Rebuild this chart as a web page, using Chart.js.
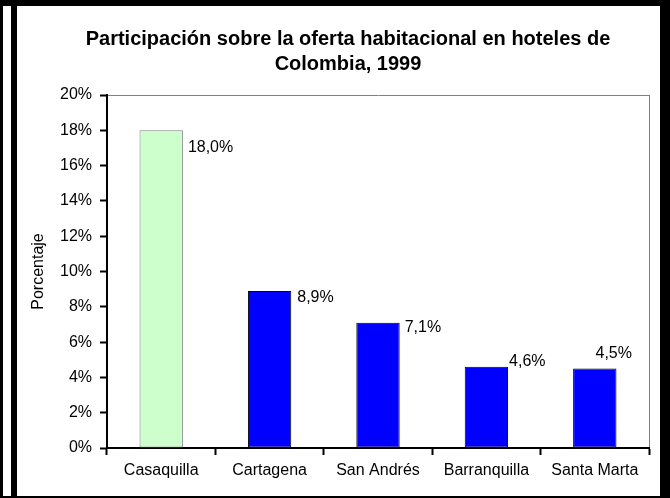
<!DOCTYPE html>
<html>
<head>
<meta charset="utf-8">
<script src="https://cdn.jsdelivr.net/npm/chart.js@4.4.1/dist/chart.umd.min.js"></script>
<style>
  html, body { margin: 0; padding: 0; }
  body { width: 670px; height: 498px; background: #000; position: relative; overflow: hidden; }
  #strip { position: absolute; left: 3px; top: 6px; width: 8px; height: 490px; background: #fff; }
  #panel { position: absolute; left: 17px; top: 6px; width: 643px; height: 490px; background: #fff; }
  canvas { display: block; }
</style>
</head>
<body>
<div id="strip"></div>
<div id="panel"><canvas id="chart" width="643" height="490"></canvas></div>
<script>
// ---- data ----
const TITLE_LINES = ['Participación sobre la oferta habitacional en hoteles de', 'Colombia, 1999'];
const CATEGORIES = ['Casaquilla', 'Cartagena', 'San Andrés', 'Barranquilla', 'Santa Marta'];
const VALUES = [18.0, 8.9, 7.1, 4.6, 4.5];
const Y_AXIS_TITLE = 'Porcentaje';
const Y_MIN = 0, Y_MAX = 20, Y_STEP = 2;

// ---- styles ----
const FONT = 'Liberation Sans, Arial, sans-serif';
const BAR_FILL = ['#CCFFCC', '#0000FF', '#0000FF', '#0000FF', '#0000FF'];
const BAR_EDGE = ['#808080', '#000000', '#000000', '#000000', '#000000'];

const fmt = v => v.toFixed(1).replace('.', ',') + '%';

const titlePlugin = {
  id: 'customTitle',
  afterDraw(chart, args, opts) {
    const ctx = chart.ctx;
    ctx.save();
    ctx.font = 'bold 20px ' + FONT;
    ctx.fillStyle = '#000';
    ctx.textAlign = 'center';
    ctx.textBaseline = 'alphabetic';
    opts.lines.forEach((t, i) => ctx.fillText(t, opts.x, opts.y + i * opts.lineGap));
    ctx.restore();
  }
};

const valueLabels = {
  id: 'valueLabels',
  afterDatasetsDraw(chart, args, opts) {
    const ctx = chart.ctx;
    const meta = chart.getDatasetMeta(0);
    ctx.save();
    ctx.font = '16px ' + FONT;
    ctx.fillStyle = '#000';
    ctx.textAlign = 'left';
    ctx.textBaseline = 'middle';
    meta.data.forEach((bar, i) => {
      const v = chart.data.datasets[0].data[i];
      const off = opts.offsets[i];
      const right = bar.x + bar.width / 2;
      ctx.fillText(fmt(v), right + off[0], bar.y + off[1]);
    });
    ctx.restore();
  }
};

new Chart(document.getElementById('chart'), {
  type: 'bar',
  data: {
    labels: CATEGORIES,
    datasets: [{
      data: VALUES,
      backgroundColor: BAR_FILL,
      borderColor: BAR_EDGE,
      borderWidth: 1,
      borderSkipped: false,
      categoryPercentage: 0.4,
      barPercentage: 1.0
    }]
  },
  plugins: [titlePlugin, valueLabels],
  options: {
    responsive: false,
    animation: false,
    devicePixelRatio: 1,
    layout: { padding: { top: 89, right: 11, left: 0, bottom: 0 } },
    plugins: {
      legend: { display: false },
      title: { display: false },
      tooltip: { enabled: false },
      customTitle: { lines: TITLE_LINES, x: 331, y: 39, lineGap: 24.5 },
      valueLabels: { offsets: [[5, 17.5], [6, 6.5], [5, 5], [1, -5], [-21, -15]] }
    },
    scales: {
      x: {
        grid: {
          offset: true,
          drawOnChartArea: true,
          color: c => c.type === 'scale' ? '#808080' : 'rgba(0,0,0,0)',
          lineWidth: 1,
          tickColor: '#000',
          tickWidth: 2,
          tickLength: 7
        },
        border: { color: '#000', width: 2 },
        ticks: { color: '#000', font: { family: FONT, size: 16 }, padding: 6, maxRotation: 0, autoSkip: false },
        afterFit: s => { s.height = 48; }
      },
      y: {
        min: Y_MIN, max: Y_MAX,
        grid: {
          drawOnChartArea: true,
          color: c => (c.tick && c.tick.value === Y_MAX) ? '#808080' : 'rgba(0,0,0,0)',
          lineWidth: 1,
          tickColor: '#000',
          tickWidth: 2,
          tickLength: 7
        },
        border: { color: '#000', width: 2 },
        ticks: { stepSize: Y_STEP, color: '#000', font: { family: FONT, size: 16 }, padding: 8, callback: v => v + '%' },
        title: { display: true, text: Y_AXIS_TITLE, color: '#000', font: { family: FONT, size: 16 }, padding: { top: 12, bottom: 0 } },
        afterFit: s => { s.width = 90; }
      }
    }
  }
});
</script>
</body>
</html>
